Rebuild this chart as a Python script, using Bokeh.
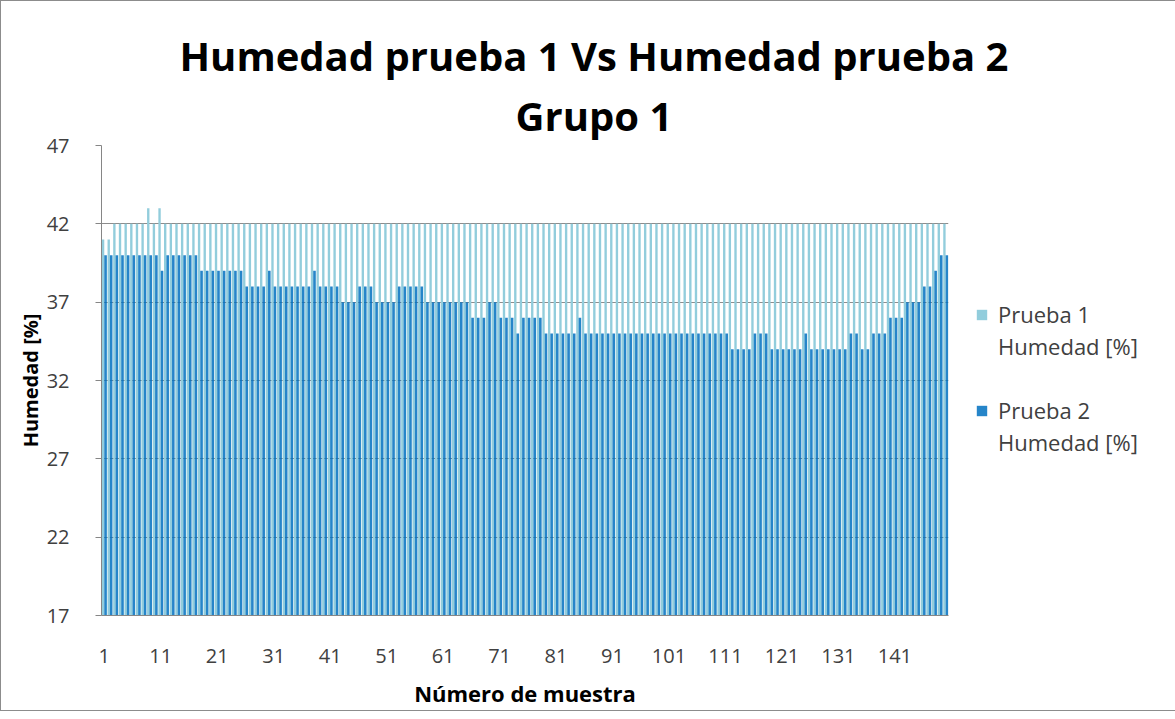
from bokeh.plotting import figure
from bokeh.models import ColumnDataSource, FixedTicker, Legend, LegendItem, Range1d, Title
from bokeh.transform import dodge
from bokeh.embed import file_html
from bokeh.resources import INLINE

# ---- data ----
muestras = list(range(1, 151))
prueba1 = [
    41, 41, 42, 42, 42, 42, 42, 42, 43, 42,
    43, 42, 42, 42, 42, 42, 42, 42, 42, 42,
    42, 42, 42, 42, 42, 42, 42, 42, 42, 42,
    42, 42, 42, 42, 42, 42, 42, 42, 42, 42,
    42, 42, 42, 42, 42, 42, 42, 42, 42, 42,
    42, 42, 42, 42, 42, 42, 42, 42, 42, 42,
    42, 42, 42, 42, 42, 42, 42, 42, 42, 42,
    42, 42, 42, 42, 42, 42, 42, 42, 42, 42,
    42, 42, 42, 42, 42, 42, 42, 42, 42, 42,
    42, 42, 42, 42, 42, 42, 42, 42, 42, 42,
    42, 42, 42, 42, 42, 42, 42, 42, 42, 42,
    42, 42, 42, 42, 42, 42, 42, 42, 42, 42,
    42, 42, 42, 42, 42, 42, 42, 42, 42, 42,
    42, 42, 42, 42, 42, 42, 42, 42, 42, 42,
    42, 42, 42, 42, 42, 42, 42, 42, 42, 42,
]
prueba2 = [
    40, 40, 40, 40, 40, 40, 40, 40, 40, 40,
    39, 40, 40, 40, 40, 40, 40, 39, 39, 39,
    39, 39, 39, 39, 39, 38, 38, 38, 38, 39,
    38, 38, 38, 38, 38, 38, 38, 39, 38, 38,
    38, 38, 37, 37, 37, 38, 38, 38, 37, 37,
    37, 37, 38, 38, 38, 38, 38, 37, 37, 37,
    37, 37, 37, 37, 37, 36, 36, 36, 37, 37,
    36, 36, 36, 35, 36, 36, 36, 36, 35, 35,
    35, 35, 35, 35, 36, 35, 35, 35, 35, 35,
    35, 35, 35, 35, 35, 35, 35, 35, 35, 35,
    35, 35, 35, 35, 35, 35, 35, 35, 35, 35,
    35, 34, 34, 34, 34, 35, 35, 35, 34, 34,
    34, 34, 34, 34, 35, 34, 34, 34, 34, 34,
    34, 34, 35, 35, 34, 34, 35, 35, 35, 36,
    36, 36, 37, 37, 37, 38, 38, 39, 40, 40,
]
x_ticks = [1, 11, 21, 31, 41, 51, 61, 71, 81, 91, 101, 111, 121, 131, 141]
y_ticks = [17, 22, 27, 32, 37, 42, 47]
series_names = ["Prueba 1", "Prueba 2"]
series_unit = "Humedad [%]"

titulo_1 = "Humedad prueba 1 Vs Humedad prueba 2"
titulo_2 = "Grupo 1"
eje_x = "Número de muestra"
eje_y = "Humedad [%]"

COLOR1 = "#92CDDC"
COLOR2 = "#0070C0"
FONT = "Open Sans"

src = ColumnDataSource(dict(x=muestras, p1=prueba1, p2=prueba2))
empty = ColumnDataSource(dict(x=[], top=[]))

p = figure(
    frame_width=847, frame_height=470,
    output_backend="svg", toolbar_location=None,
    x_range=Range1d(0.5, 150.5), y_range=Range1d(17, 47),
    min_border_left=100, min_border_right=213,
    min_border_top=144, min_border_bottom=91,
    title=None,
)
p.styles = {"border": "1px solid #8c8c8c"}

# title (two lines, inner added first)
t2 = Title(text=titulo_2, align="left", offset=414, text_font=FONT,
           text_font_size="40px", text_font_style="bold", text_color="#000000",
           standoff=6)
t1 = Title(text=titulo_1, align="left", offset=78, text_font=FONT,
           text_font_size="40px", text_font_style="bold", text_color="#000000",
           standoff=0)
p.add_layout(t2, "above")
p.add_layout(t1, "above")

# bars
r1 = p.vbar(x=dodge("x", -0.22, range=p.x_range), top="p1", bottom=17, width=0.42,
            source=src, fill_color=COLOR1, line_color=None)
r2 = p.vbar(x=dodge("x", 0.22, range=p.x_range), top="p2", bottom=17, width=0.46,
            source=src, fill_color=COLOR2, line_color=None, fill_alpha=0.85)
blank = p.vbar(x="x", top="top", width=0.4, source=empty, fill_alpha=0, line_alpha=0)

# axes
p.xaxis.ticker = FixedTicker(ticks=x_ticks)
p.yaxis.ticker = FixedTicker(ticks=y_ticks)
for ax in (p.xaxis[0], p.yaxis[0]):
    ax.axis_line_color = "#868686"
    ax.major_tick_line_color = "#868686"
    ax.minor_tick_line_color = None
    ax.major_label_text_font = FONT
    ax.major_label_text_font_size = "20px"
    ax.major_label_text_color = "#404040"
    ax.axis_label_text_font = FONT
    ax.axis_label_text_font_style = "bold"
    ax.axis_label_text_color = "#000000"

p.xaxis.axis_label = eje_x
p.xaxis.axis_label_text_font_size = "22px"
p.xaxis.major_tick_out = 0
p.xaxis.major_tick_in = 0
p.xaxis.major_label_standoff = 33
p.xaxis.axis_label_standoff = 12

p.yaxis.axis_label = eje_y
p.yaxis.axis_label_text_font_size = "20px"
p.yaxis.major_tick_out = 6
p.yaxis.major_tick_in = 0
p.yaxis.major_label_standoff = 26
p.yaxis.axis_label_standoff = 0

p.xgrid.grid_line_color = None
p.ygrid.grid_line_color = "#8c8c8c"
p.ygrid.grid_line_width = 1
p.outline_line_color = None

legend = Legend(
    items=[LegendItem(label=series_names[0], renderers=[r1]),
           LegendItem(label=series_unit, renderers=[blank]),
           LegendItem(label=" ", renderers=[blank]),
           LegendItem(label=series_names[1], renderers=[r2]),
           LegendItem(label=series_unit, renderers=[blank])],
    location=(27, 158),
    orientation="vertical",
    border_line_color=None,
    background_fill_alpha=0,
    label_text_font=FONT,
    label_text_font_size="22px",
    label_text_color="#404040",
    label_height=30,
    glyph_width=13, glyph_height=13,
    label_standoff=10,
    spacing=2,
    padding=0,
    margin=0,
)
p.add_layout(legend, "right")

open("out.html", "w").write(file_html(p, INLINE))
